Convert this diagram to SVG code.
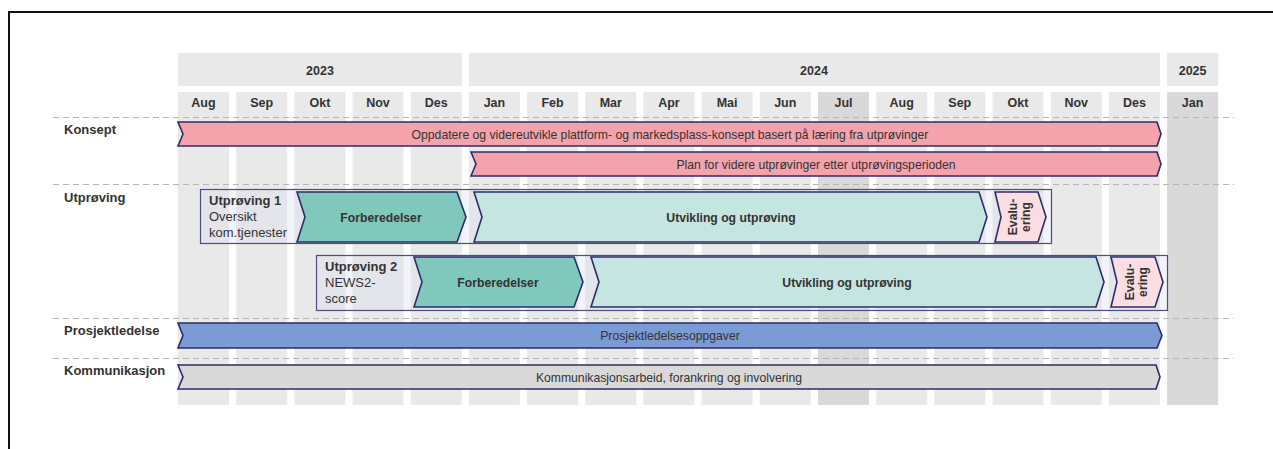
<svg xmlns="http://www.w3.org/2000/svg" width="1273" height="449" viewBox="0 0 1273 449">
  <style>
    .col { fill: #e9e9e9; }
    .col-dark { fill: #d9d9d9; }
    .hdr { font-family: "Liberation Sans", Arial, sans-serif; font-size: 12.5px; font-weight: bold; fill: #333333; text-anchor: middle; }
    .row { font-family: "Liberation Sans", Arial, sans-serif; font-size: 13px; font-weight: bold; fill: #333333; }
    .lbl { font-family: "Liberation Sans", Arial, sans-serif; font-size: 12.2px; fill: #333333; text-anchor: middle; }
    .lblb { font-family: "Liberation Sans", Arial, sans-serif; font-size: 12.2px; font-weight: bold; fill: #333333; text-anchor: middle; }
    .tag { font-family: "Liberation Sans", Arial, sans-serif; font-size: 13px; fill: #333333; }
    .sep { stroke: #b5b5b5; stroke-width: 1; stroke-dasharray: 6 4; fill: none; }
    .bar { stroke: #2b2d6b; stroke-width: 1.6; stroke-linejoin: miter; }
    .pink { fill: #f4a2ac; }
    .blue { fill: #7b9bd5; }
    .grey { fill: #d9d9d9; }
    .teal { fill: #7fc8bb; }
    .mint { fill: #c5e5e0; }
    .rose { fill: #fcdde1; }
    .box { fill: #dcdcf0; fill-opacity: 0.35; stroke: #4a4e80; stroke-width: 1.2; }
  </style>

  <!-- outer frame -->
  <path d="M9,449 L9,12 L1273,12" fill="none" stroke="#111111" stroke-width="2"/>

  <!-- month columns -->
  <g id="columns">
    <rect class="col" x="178" y="92" width="51" height="313"/>
    <rect class="col" x="236.2" y="92" width="51" height="313"/>
    <rect class="col" x="294.4" y="92" width="51" height="313"/>
    <rect class="col" x="352.5" y="92" width="51" height="313"/>
    <rect class="col" x="410.7" y="92" width="51" height="313"/>
    <rect class="col" x="468.9" y="92" width="51" height="313"/>
    <rect class="col" x="527.1" y="92" width="51" height="313"/>
    <rect class="col" x="585.3" y="92" width="51" height="313"/>
    <rect class="col" x="643.4" y="92" width="51" height="313"/>
    <rect class="col" x="701.6" y="92" width="51" height="313"/>
    <rect class="col" x="759.8" y="92" width="51" height="313"/>
    <rect class="col-dark" x="818" y="92" width="51" height="313"/>
    <rect class="col" x="876.2" y="92" width="51" height="313"/>
    <rect class="col" x="934.3" y="92" width="51" height="313"/>
    <rect class="col" x="992.5" y="92" width="51" height="313"/>
    <rect class="col" x="1050.7" y="92" width="51" height="313"/>
    <rect class="col" x="1108.9" y="92" width="51" height="313"/>
    <rect class="col-dark" x="1167.1" y="92" width="51" height="313"/>
  </g>

  <!-- year header -->
  <g id="years">
    <rect class="col" x="178" y="53" width="284" height="33"/>
    <rect class="col" x="468.9" y="53" width="691" height="33"/>
    <rect class="col" x="1167.1" y="53" width="51" height="33"/>
    <text class="hdr" x="320" y="75">2023</text>
    <text class="hdr" x="814" y="75">2024</text>
    <text class="hdr" x="1192.6" y="75">2025</text>
  </g>

  <!-- month labels -->
  <g id="months">
    <text class="hdr" x="203.5" y="107">Aug</text>
    <text class="hdr" x="261.7" y="107">Sep</text>
    <text class="hdr" x="319.9" y="107">Okt</text>
    <text class="hdr" x="378" y="107">Nov</text>
    <text class="hdr" x="436.2" y="107">Des</text>
    <text class="hdr" x="494.4" y="107">Jan</text>
    <text class="hdr" x="552.6" y="107">Feb</text>
    <text class="hdr" x="610.8" y="107">Mar</text>
    <text class="hdr" x="668.9" y="107">Apr</text>
    <text class="hdr" x="727.1" y="107">Mai</text>
    <text class="hdr" x="785.3" y="107">Jun</text>
    <text class="hdr" x="843.5" y="107">Jul</text>
    <text class="hdr" x="901.7" y="107">Aug</text>
    <text class="hdr" x="959.8" y="107">Sep</text>
    <text class="hdr" x="1018" y="107">Okt</text>
    <text class="hdr" x="1076.2" y="107">Nov</text>
    <text class="hdr" x="1134.4" y="107">Des</text>
    <text class="hdr" x="1192.6" y="107">Jan</text>
  </g>

  <!-- row separators -->
  <g id="separators">
    <line class="sep" x1="53" y1="117.5" x2="1234" y2="117.5"/>
    <line class="sep" x1="53" y1="184.5" x2="1234" y2="184.5"/>
    <line class="sep" x1="53" y1="318.5" x2="1234" y2="318.5"/>
    <line class="sep" x1="53" y1="358.5" x2="1234" y2="358.5"/>
  </g>

  <!-- row labels -->
  <g id="row-labels">
    <text class="row" x="64" y="134">Konsept</text>
    <text class="row" x="64" y="202">Utprøving</text>
    <text class="row" x="64" y="335">Prosjektledelse</text>
    <text class="row" x="64" y="375">Kommunikasjon</text>
  </g>

  <!-- Konsept -->
  <g id="konsept-1">
    <path class="bar pink" d="M178,122 L1157,122 L1161,134 L1157,146 L178,146 L183,134 Z"/>
    <text class="lbl" x="670" y="138.5">Oppdatere og videreutvikle plattform- og markedsplass-konsept basert på læring fra utprøvinger</text>
  </g>
  <g id="konsept-2">
    <path class="bar pink" d="M471,152 L1157,152 L1161,164 L1157,176 L471,176 L476,164 Z"/>
    <text class="lbl" x="816" y="168.5">Plan for videre utprøvinger etter utprøvingsperioden</text>
  </g>

  <!-- Utprøving 1 -->
  <g id="utproving-1">
    <rect class="box" x="200.5" y="189.5" width="851" height="54"/>
    <text class="tag" x="209" y="205" font-weight="bold">Utprøving 1</text>
    <text class="tag" x="209" y="221">Oversikt</text>
    <text class="tag" x="209" y="237">kom.tjenester</text>
  </g>
  <g id="forberedelser-1">
    <path class="bar teal" d="M297,192 L457,192 L466,217 L457,242 L297,242 L305,217 Z"/>
    <text class="lblb" x="381" y="221.5">Forberedelser</text>
  </g>
  <g id="utvikling-1">
    <path class="bar mint" d="M474,192 L979,192 L987,217 L979,242 L474,242 L482,217 Z"/>
    <text class="lblb" x="731" y="221.5">Utvikling og utprøving</text>
  </g>
  <g id="evaluering-1">
    <path class="bar rose" d="M995,192 L1038,192 L1046,217 L1038,242 L995,242 L1001,217 Z"/>
    <text class="lblb" transform="translate(1017,217) rotate(-90)" x="0" y="0">Evalu-</text>
    <text class="lblb" transform="translate(1030,217) rotate(-90)" x="0" y="0">ering</text>
  </g>

  <!-- Utprøving 2 -->
  <g id="utproving-2">
    <rect class="box" x="316.5" y="255.5" width="851" height="55"/>
    <text class="tag" x="325" y="271" font-weight="bold">Utprøving 2</text>
    <text class="tag" x="325" y="287">NEWS2-</text>
    <text class="tag" x="325" y="303">score</text>
  </g>
  <g id="forberedelser-2">
    <path class="bar teal" d="M414,257 L574,257 L583,282 L574,307 L414,307 L422,282 Z"/>
    <text class="lblb" x="498" y="286.5">Forberedelser</text>
  </g>
  <g id="utvikling-2">
    <path class="bar mint" d="M591,257 L1096,257 L1104,282 L1096,307 L591,307 L599,282 Z"/>
    <text class="lblb" x="847" y="286.5">Utvikling og utprøving</text>
  </g>
  <g id="evaluering-2">
    <path class="bar rose" d="M1111,257 L1155,257 L1163,282 L1155,307 L1111,307 L1117,282 Z"/>
    <text class="lblb" transform="translate(1134,282) rotate(-90)" x="0" y="0">Evalu-</text>
    <text class="lblb" transform="translate(1147,282) rotate(-90)" x="0" y="0">ering</text>
  </g>

  <!-- Prosjektledelse -->
  <g id="prosjektledelse">
    <path class="bar blue" d="M178,323 L1157,323 L1162,335.5 L1157,348 L178,348 L183,335.5 Z"/>
    <text class="lbl" x="670" y="340">Prosjektledelsesoppgaver</text>
  </g>

  <!-- Kommunikasjon -->
  <g id="kommunikasjon">
    <path class="bar grey" d="M178,365 L1156,365 L1160,377 L1156,389 L178,389 L183,377 Z"/>
    <text class="lbl" x="669" y="381.5">Kommunikasjonsarbeid, forankring og involvering</text>
  </g>
</svg>
